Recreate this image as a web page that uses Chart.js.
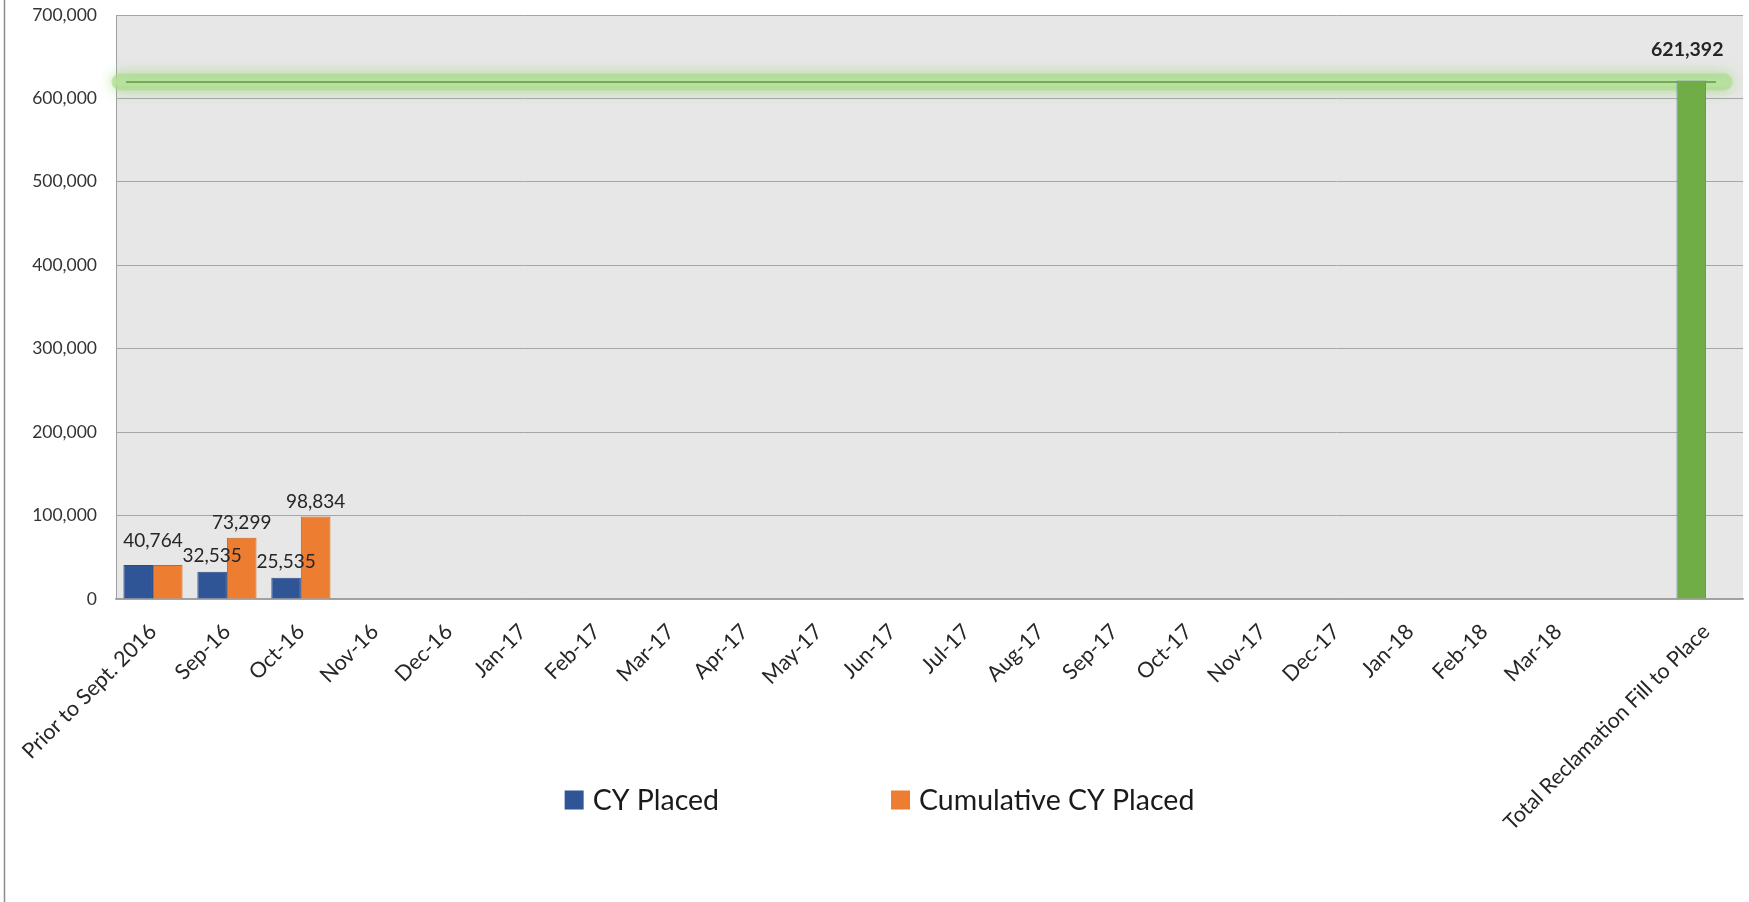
<!DOCTYPE html>
<html>
<head>
<meta charset="utf-8">
<script src="https://cdn.jsdelivr.net/npm/chart.js@4.4.1/dist/chart.umd.min.js"></script>
<style>
html,body{margin:0;padding:0;background:#ffffff;}
#wrap{width:1749px;height:902px;position:relative;}
</style>
</head>
<body>
<div id="wrap"><canvas id="c"></canvas></div>
<script>
// ---- data ----
const categories = ['Prior to Sept. 2016','Sep-16','Oct-16','Nov-16','Dec-16','Jan-17','Feb-17','Mar-17','Apr-17','May-17','Jun-17','Jul-17','Aug-17','Sep-17','Oct-17','Nov-17','Dec-17','Jan-18','Feb-18','Mar-18','','Total Reclamation Fill to Place'];
const cyPlaced = [40764, 32535, 25535, null, null, null, null, null, null, null, null, null, null, null, null, null, null, null, null, null, null, 621392];
const cumulativeCY = [40764, 73299, 98834, null, null, null, null, null, null, null, null, null, null, null, null, null, null, null, null, null, null, null];
const totalFillTarget = 621392;
const seriesNames = ['CY Placed', 'Cumulative CY Placed'];
const yMax = 700000;
const yStep = 100000;

// ---- styles ----
const BLUE = '#2f5597', ORANGE = '#ed7d31', GREEN = '#70ad47';
const FONT = 'Lato, "Noto Sans", sans-serif';
const lastIdx = categories.length - 1;
const fmt = v => Number(v).toLocaleString('en-US');

const bgPlugin = {
  id: 'bg',
  beforeDraw(chart) {
    const {ctx, chartArea: a} = chart;
    ctx.save();
    ctx.fillStyle = '#e7e7e7';
    ctx.fillRect(a.left, a.top, a.right - a.left, a.bottom - a.top);
    ctx.strokeStyle = '#8c8c8c';
    ctx.lineWidth = 1.5;
    ctx.beginPath();
    ctx.moveTo(4.5, 0);
    ctx.lineTo(4.5, chart.height);
    ctx.stroke();
    ctx.restore();
  }
};

const targetLinePlugin = {
  id: 'targetLine',
  beforeDatasetsDraw(chart) {
    const {ctx, chartArea: a, scales} = chart;
    const y = scales.y.getPixelForValue(totalFillTarget) + 1.5;
    const x0 = a.left + 4, x1 = a.right - 19;
    ctx.save();
    ctx.lineCap = 'round';
    ctx.shadowColor = 'rgba(140,210,100,0.9)';
    ctx.shadowBlur = 14;
    ctx.strokeStyle = 'rgba(170,220,140,0.65)';
    ctx.lineWidth = 17;
    ctx.beginPath(); ctx.moveTo(x0, y); ctx.lineTo(x1, y); ctx.stroke();
    ctx.shadowBlur = 0;
    ctx.strokeStyle = 'rgba(185,226,160,0.85)';
    ctx.lineWidth = 9;
    ctx.beginPath(); ctx.moveTo(x0, y); ctx.lineTo(x1, y); ctx.stroke();
    ctx.lineCap = 'butt';
    ctx.strokeStyle = '#5e9a40';
    ctx.lineWidth = 1.5;
    ctx.beginPath(); ctx.moveTo(x0 + 6, y); ctx.lineTo(x1 - 8, y); ctx.stroke();
    ctx.restore();
  }
};

const labelPlugin = {
  id: 'valueLabels',
  afterDatasetsDraw(chart) {
    const {ctx} = chart;
    const ds0 = chart.data.datasets[0], ds1 = chart.data.datasets[1];
    const m0 = chart.getDatasetMeta(0), m1 = chart.getDatasetMeta(1);
    ctx.save();
    ctx.textAlign = 'center';
    ctx.textBaseline = 'middle';
    ctx.fillStyle = '#262626';
    categories.forEach((c, i) => {
      const v0 = ds0.data[i], v1 = ds1.data[i];
      const b0 = m0.data[i], b1 = m1.data[i];
      if (v0 != null && v1 != null && v0 === v1) {
        ctx.font = '19px ' + FONT;
        ctx.fillText(fmt(v0), (b0.x + b1.x) / 2, b0.y - 24);
        return;
      }
      if (v0 != null) {
        const bold = i === lastIdx;
        ctx.font = (bold ? 'bold 19.5px ' : '19px ') + FONT;
        ctx.fillText(fmt(v0), b0.x - (bold ? 4 : 0), b0.y - (bold ? 31 : 16));
      }
      if (v1 != null) {
        ctx.font = '19px ' + FONT;
        ctx.fillText(fmt(v1), b1.x, b1.y - 15);
      }
    });
    ctx.restore();
  }
};

const legendPlugin = {
  id: 'customLegend',
  afterDraw(chart) {
    const {ctx} = chart;
    const colors = [BLUE, ORANGE];
    const box = 19, gapText = 9, gapItem = 172;
    ctx.save();
    ctx.font = '28.5px ' + FONT;
    const widths = seriesNames.map(n => box + gapText + ctx.measureText(n).width);
    const total = widths.reduce((s, w) => s + w, 0) + gapItem * (widths.length - 1);
    let x = chart.width / 2 + 5 - total / 2;
    const yc = 800;
    seriesNames.forEach((n, k) => {
      ctx.fillStyle = colors[k];
      ctx.fillRect(x, yc - box / 2, box, box);
      ctx.fillStyle = '#1a1a1a';
      ctx.textBaseline = 'middle';
      ctx.textAlign = 'left';
      ctx.fillText(n, x + box + gapText, yc + 1);
      x += widths[k] + gapItem;
    });
    ctx.restore();
  }
};

new Chart(document.getElementById('c'), {
  type: 'bar',
  data: {
    labels: categories,
    datasets: [
      {
        label: seriesNames[0],
        data: cyPlaced,
        backgroundColor: categories.map((c, i) => i === lastIdx ? GREEN : BLUE),
        borderColor: categories.map((c, i) => i === lastIdx ? '#6688b8' : '#2a4d8a'),
        borderWidth: 1
      },
      {
        label: seriesNames[1],
        data: cumulativeCY,
        backgroundColor: ORANGE,
        borderColor: '#c9651f',
        borderWidth: 1
      }
    ]
  },
  options: {
    responsive: true,
    maintainAspectRatio: false,
    animation: false,
    layout: {padding: {top: 0, right: 6, left: 0, bottom: 0}},
    datasets: {bar: {categoryPercentage: 0.8, barPercentage: 1.0}},
    plugins: {legend: {display: false}, tooltip: {enabled: false}},
    scales: {
      x: {
        grid: {display: false},
        border: {display: true, color: '#a0a0a0', width: 1.5},
        ticks: {
          autoSkip: false, maxRotation: 45, minRotation: 45,
          padding: 12, color: '#262626',
          font: {family: FONT, size: 21.5}
        },
        afterFit(scale) { scale.height = 303; }
      },
      y: {
        min: 0, max: yMax,
        grid: {color: '#a6a6a6', drawTicks: false, lineWidth: 1},
        border: {display: true, color: '#a0a0a0', width: 1},
        ticks: {
          stepSize: yStep, padding: 19, color: '#333333',
          font: {family: FONT, size: 17.5},
          callback: v => fmt(v)
        },
        afterFit(scale) { scale.width = 116; scale.paddingTop = 15; scale.paddingBottom = 10; }
      }
    }
  },
  plugins: [bgPlugin, targetLinePlugin, labelPlugin, legendPlugin]
});
</script>
</body>
</html>
